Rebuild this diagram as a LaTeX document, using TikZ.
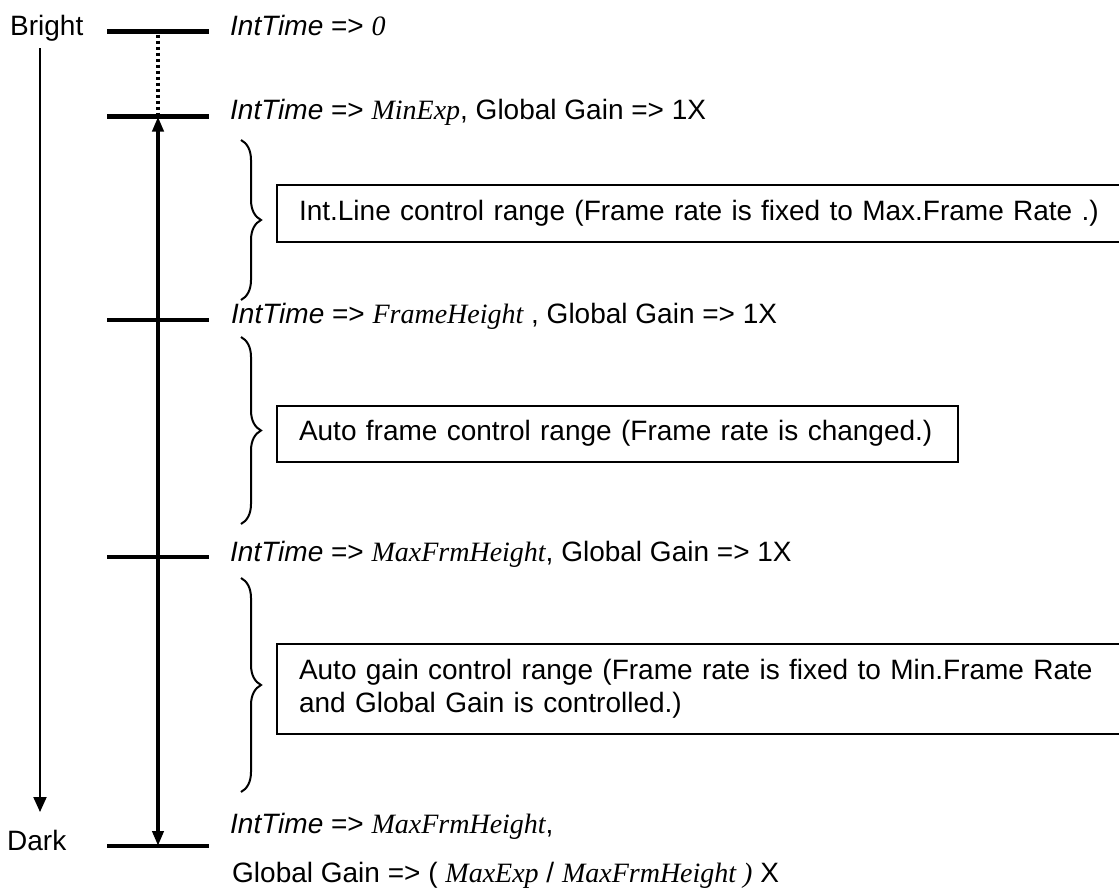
\documentclass[tikz,border=0pt]{standalone}
\usepackage{fontspec}
\setmainfont{Liberation Sans}
\newfontfamily\tms{Liberation Serif}
\usetikzlibrary{arrows.meta,decorations.pathreplacing}
\newcommand{\vr}[1]{{\tms\itshape #1}}
\begin{document}
\begin{tikzpicture}[x=1pt,y=-1pt,
  font=\fontsize{28}{33}\selectfont,
  lbl/.style={anchor=base west,inner sep=0pt},
  bar/.style={line width=4.5pt},
  rangebox/.style={draw,line width=2pt,anchor=north west,inner xsep=22pt,inner ysep=0pt,align=left},
  bracestyle/.style={decorate,decoration={brace,amplitude=20pt},line width=2pt},
  dblarrow/.style={line width=4pt,{Triangle[length=15pt,width=11pt]}-{Triangle[length=15pt,width=11pt]}},
  thinarrow/.style={line width=2pt,-{Triangle[length=15pt,width=13pt]}}]
\clip (0,0) rectangle (1119,889);
\fill[white] (0,0) rectangle (1119,889);

% side labels
\node[lbl] (bright) at (10,35) {Bright};
\node[lbl] (dark) at (7,850) {Dark};
\coordinate (ta) at (40,48);
\coordinate (tb) at (40,812);
\draw[thinarrow] (ta) -- (tb);

% level bars
\coordinate (b1l) at (107,31.5); \coordinate (b1r) at (209,31.5); \coordinate (b1m) at (158,31.5);
\coordinate (b2l) at (107,116.5); \coordinate (b2r) at (209,116.5); \coordinate (b2m) at (158,116.5);
\coordinate (b3l) at (107,320); \coordinate (b3r) at (209,320);
\coordinate (b4l) at (107,557); \coordinate (b4r) at (209,557);
\coordinate (b5l) at (107,846); \coordinate (b5r) at (209,846); \coordinate (b5m) at (158,846);
\foreach \i in {1,...,5} {\draw[bar] (b\i l) -- (b\i r);}
\draw[line width=4pt,dash pattern=on 3pt off 3pt] (b1m) ++(0,3) -- (b2m);
\draw[dblarrow] (b2m) -- (b5m);

% level labels
\node[lbl] (l1) at (230,35) {\textit{IntTime} => \vr{0}};
\node[lbl] (l2) at (230,119) {\textit{IntTime} => \vr{MinExp}, Global Gain => 1X};
\node[lbl] (l3) at (231,323) {\textit{IntTime} => \vr{FrameHeight} , Global Gain => 1X};
\node[lbl] (l4) at (230,561) {\textit{IntTime} => \vr{MaxFrmHeight}, Global Gain => 1X};
\node[lbl] (l5) at (230,833) {\textit{IntTime} => \vr{MaxFrmHeight},};
\node[lbl] (l6) at (232,882) {Global Gain => ( \vr{MaxExp} / \vr{MaxFrmHeight )} X};

% braces
\draw[bracestyle] (241,140) -- (241,300);
\draw[bracestyle] (241,337) -- (241,524);
\draw[bracestyle] (241,578) -- (241,792);

% range boxes
\node[rangebox,minimum height=57pt,text width=820pt] (r1) at (276,183.5)
  {Int.Line control range (Frame rate is fixed to Max.Frame Rate .)};
\node[rangebox,minimum height=56pt,text width=637pt] (r2) at (276,404.5)
  {Auto frame control range (Frame rate is changed.)};
\node[rangebox,minimum height=90pt,text width=820pt] (r3) at (276,643)
  {Auto gain control range (Frame rate is fixed to Min.Frame Rate\\and Global Gain is controlled.)};
\end{tikzpicture}
\end{document}
